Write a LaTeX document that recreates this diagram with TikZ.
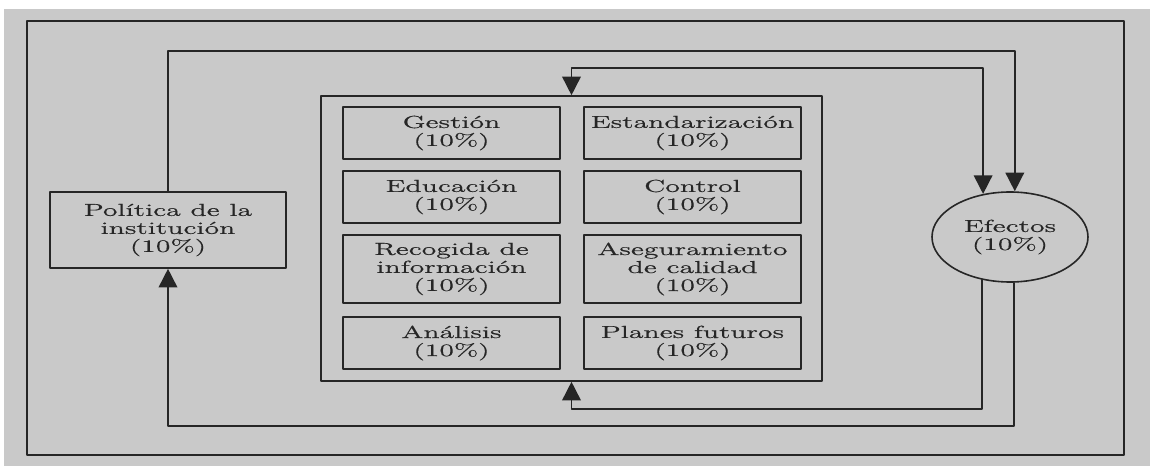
\documentclass[tikz,border=0pt]{standalone}
\usepackage{fontspec}
\setmainfont{Latin Modern Roman}[FakeStretch=1.72,FakeBold=0.6]
\usetikzlibrary{arrows.meta,shapes.geometric}
\definecolor{pagegray}{RGB}{201,201,201}
\definecolor{inkgray}{RGB}{38,38,38}
\begin{document}
\begin{tikzpicture}[x=.75pt,y=-.75pt,line width=1.2pt,draw=inkgray,
 >={Triangle[length=14pt,width=14pt]},line cap=round,line join=round,
 font=\fontsize{13}{13.5}\selectfont,
 factor/.style={draw=inkgray,text=inkgray,align=center,inner sep=0pt,
   minimum width=162.75pt,minimum height=39pt},
 tallfactor/.style={factor,minimum height=51pt}]
\useasboundingbox (0,0) rectangle (1150,466);
\fill[white] (0,0) rectangle (1150,466);
\fill[pagegray] (4,9) rectangle (1150,466);
\draw[inkgray] (27,21) rectangle (1124,455);
\node[draw=inkgray,inner sep=0pt,minimum width=375.75pt,minimum height=213.75pt]
  (modelo) at (571.5,238.5) {};
\node[factor] (gestion) at (451.5,133) {Gestión\\(10\%)};
\node[factor] (estand) at (692.5,133) {Estandarización\\(10\%)};
\node[factor] (educ) at (451.5,197) {Educación\\(10\%)};
\node[factor] (control) at (692.5,197) {Control\\(10\%)};
\node[tallfactor] (recog) at (451.5,269) {Recogida de\\información\\(10\%)};
\node[tallfactor] (asegur) at (692.5,269) {Aseguramiento\\de calidad\\(10\%)};
\node[factor] (analisis) at (451.5,343) {Análisis\\(10\%)};
\node[factor] (planes) at (692.5,343) {Planes futuros\\(10\%)};
\node[factor,minimum width=177pt,minimum height=57pt] (pol) at (168,230)
  {Política de la\\institución\\(10\%)};
\node[ellipse,draw=inkgray,text=inkgray,align=center,inner sep=0pt,
  minimum width=117pt,minimum height=67.5pt] (eff) at (1010,237) {Efectos\\(10\%)};
\coordinate (yA) at (0,51);
\coordinate (yB) at (0,426);
\coordinate (yC) at (0,68);
\coordinate (yD) at (0,409);
\draw[->,inkgray] (pol.north) |- (yA -| eff.84) -- (eff.84);
\draw[->,inkgray] (eff.275) |- (yB -| pol.south) -- (pol.south);
\draw[<->,inkgray] (modelo.north) |- (yC -| eff.122) -- (eff.122);
\draw[->,inkgray] (eff.237) |- (yD -| modelo.south) -- (modelo.south);
\end{tikzpicture}
\end{document}
